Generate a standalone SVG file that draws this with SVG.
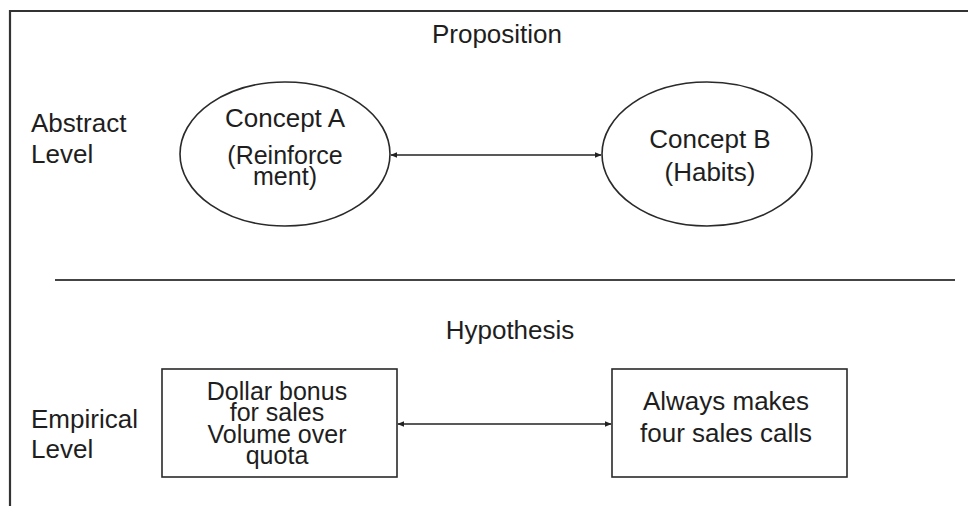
<svg xmlns="http://www.w3.org/2000/svg" width="968" height="506" viewBox="0 0 968 506">
  <style>
    text { font-family: "Liberation Sans", Arial, sans-serif; font-size: 26px; fill: #1e1e1e; }
    .c { text-anchor: middle; }
    .tight { font-size: 25px; }
    .shape { fill: none; stroke: #2a2a2a; stroke-width: 1.6; }
    .frame { fill: none; stroke: #333; stroke-width: 2.2; }
    .link { stroke: #222; stroke-width: 1.6; fill: none; marker-start: url(#head); marker-end: url(#head); }
  </style>
  <defs>
    <marker id="head" viewBox="0 0 10 10" refX="9" refY="5" markerWidth="7" markerHeight="7" markerUnits="userSpaceOnUse" orient="auto-start-reverse">
      <path d="M0,1 L10,5 L0,9 Z" fill="#222"/>
    </marker>
  </defs>

  <rect width="968" height="506" fill="#fff"/>

  <!-- outer frame: top and left edges -->
  <path class="frame" d="M10,506 L10,11 L968,11"/>
  <!-- divider between abstract and empirical levels -->
  <line x1="55" y1="280" x2="955" y2="280" stroke="#444" stroke-width="1.8"/>

  <g id="labels">
    <text class="c" x="497" y="43">Proposition</text>
    <text x="31" y="132">Abstract</text>
    <text x="31" y="163">Level</text>
    <text class="c" x="510" y="339">Hypothesis</text>
    <text x="31" y="428">Empirical</text>
    <text x="31" y="458">Level</text>
  </g>

  <g id="conceptA">
    <ellipse class="shape" cx="285" cy="154" rx="105" ry="72"/>
    <text class="c" x="285" y="127">Concept A</text>
    <text class="c tight" x="285" y="164">(Reinforce</text>
    <text class="c tight" x="285" y="185">ment)</text>
  </g>

  <g id="conceptB">
    <ellipse class="shape" cx="707" cy="154" rx="105" ry="72"/>
    <text class="c" x="710" y="148">Concept B</text>
    <text class="c" x="710" y="181">(Habits)</text>
  </g>

  <g id="measureA">
    <rect class="shape" x="162" y="369" width="235" height="108"/>
    <text class="c tight" x="277" y="400">Dollar bonus</text>
    <text class="c tight" x="277" y="421">for sales</text>
    <text class="c tight" x="277" y="443">Volume over</text>
    <text class="c tight" x="277" y="464">quota</text>
  </g>

  <g id="measureB">
    <rect class="shape" x="612" y="369" width="235" height="108"/>
    <text class="c" x="726" y="410">Always makes</text>
    <text class="c" x="726" y="442">four sales calls</text>
  </g>

  <g id="connectors">
    <line class="link" x1="391" y1="155" x2="601" y2="155"/>
    <line class="link" x1="398" y1="424" x2="611" y2="424"/>
  </g>
</svg>
